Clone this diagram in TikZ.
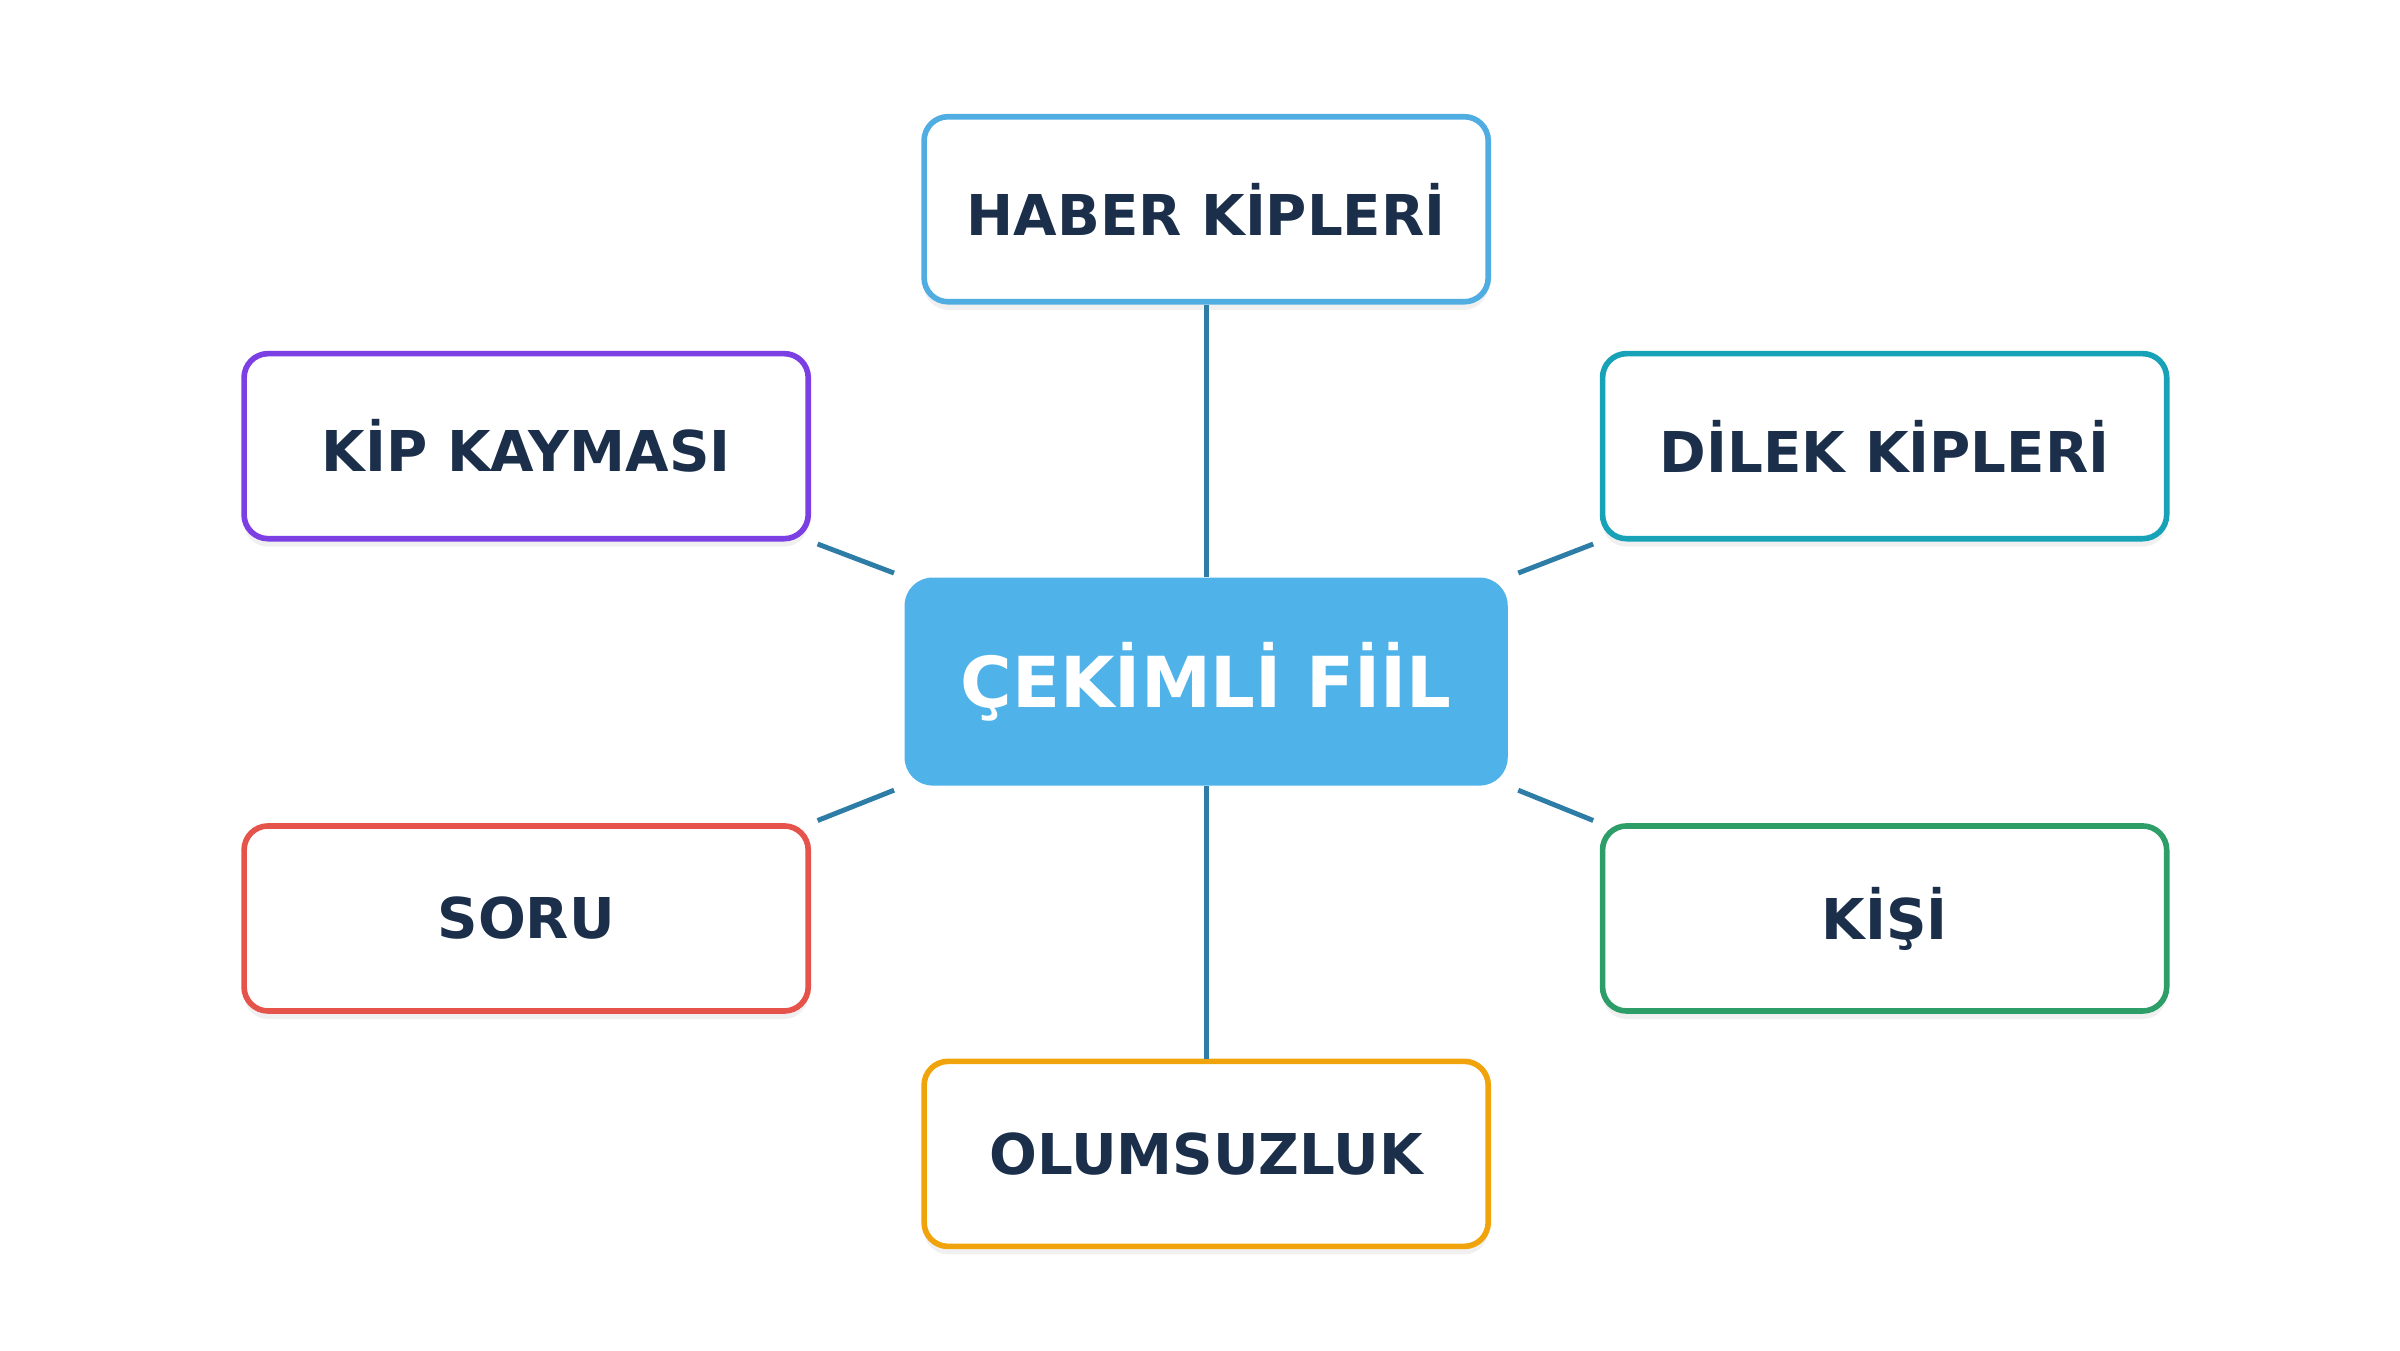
\documentclass[tikz,border=0pt]{standalone}
\usepackage{fontspec}
\setmainfont{DejaVu Sans}
\usetikzlibrary{shadows}
\definecolor{inkblue}{HTML}{1B2F4B}
\definecolor{linkblue}{HTML}{2E7DA6}
\definecolor{hubblue}{HTML}{4FB3EA}
\definecolor{skyline}{HTML}{4FADE2}
\definecolor{purpleline}{HTML}{7B3FE4}
\definecolor{tealline}{HTML}{17A2B8}
\definecolor{redline}{HTML}{E5534B}
\definecolor{greenline}{HTML}{2E9E68}
\definecolor{orangeline}{HTML}{F0A30A}

\begin{document}
\begin{tikzpicture}[x=0.01538cm,y=-0.01538cm,
    leaf/.style={draw, line width=1.6pt, fill=white, rounded corners=0.24cm,
        minimum width=5.64cm, minimum height=1.85cm, text=inkblue,
        font=\fontsize{16}{18}\selectfont\bfseries,
        drop shadow={opacity=0.12, shadow xshift=0pt, shadow yshift=-0.08cm}},
    hub/.style={fill=hubblue, rounded corners=0.28cm, minimum width=6.03cm,
        minimum height=2.08cm, text=white, font=\fontsize{20}{24}\selectfont\bfseries},
    link/.style={draw=linkblue, line width=1.4pt}]
    \useasboundingbox (0,0) rectangle (1560,877.5);

    % Hub and branches
    \node[hub] (fiil) at (784,443) {ÇEKİMLİ FİİL};
    \node[leaf, draw=skyline] (haber) at (784,136) {HABER KİPLERİ};
    \node[leaf, draw=purpleline] (kayma) at (342,290) {KİP KAYMASI};
    \node[leaf, draw=tealline] (dilek) at (1225,290) {DİLEK KİPLERİ};
    \node[leaf, draw=redline] (soru) at (342,597) {SORU};
    \node[leaf, draw=greenline] (kisi) at (1225,597) {KİŞİ};
    \node[leaf, draw=orangeline] (olum) at (784,750) {OLUMSUZLUK};

    % Connectors
    \draw[link] (haber.south) -- (fiil.north);
    \draw[link] (fiil.south) -- (olum.north);
    \draw[link, shorten <=2pt, shorten >=3pt] (kayma.south east) -- (fiil.north west);
    \draw[link, shorten <=2pt, shorten >=3pt] (dilek.south west) -- (fiil.north east);
    \draw[link, shorten <=2pt, shorten >=3pt] (soru.north east) -- (fiil.south west);
    \draw[link, shorten <=2pt, shorten >=3pt] (kisi.north west) -- (fiil.south east);
\end{tikzpicture}
\end{document}
